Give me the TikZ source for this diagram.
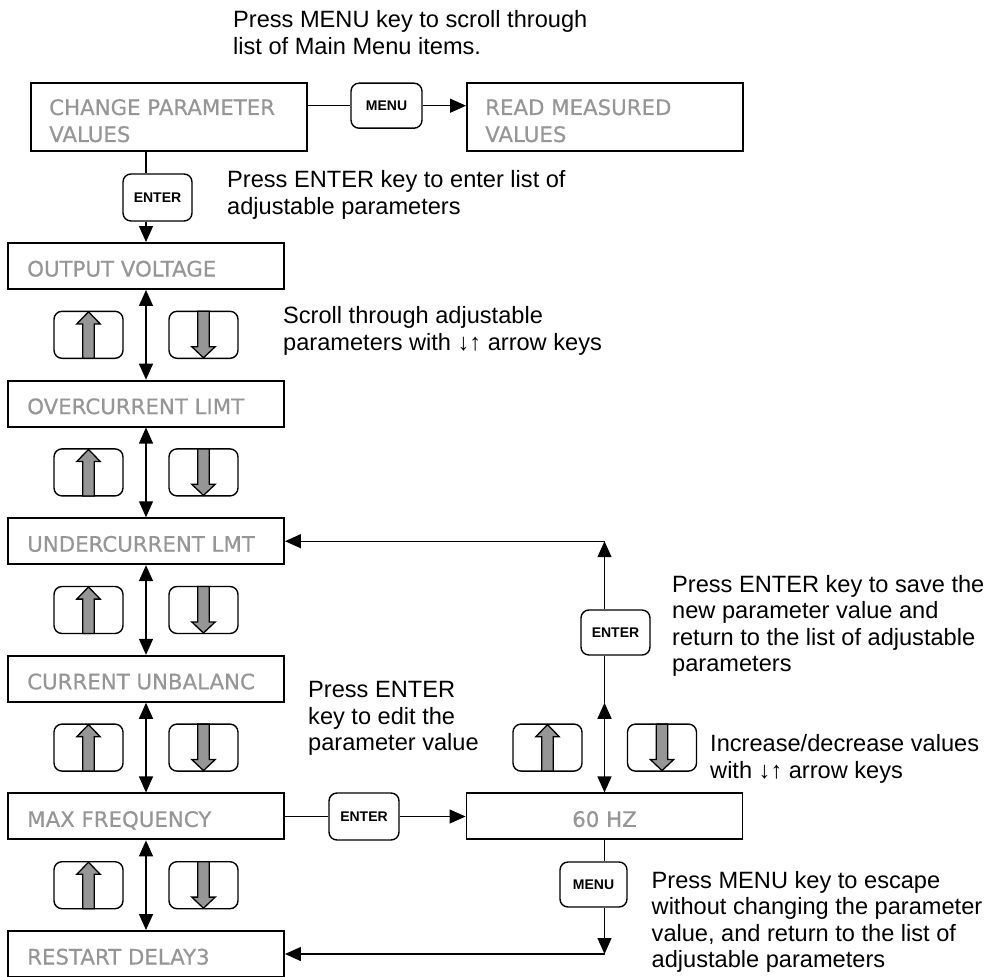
\documentclass[tikz,border=0pt]{standalone}
\usepackage{fontspec}
\setmainfont{Liberation Sans}
\newfontfamily\boxfont[FakeBold=0.5]{DejaVu Sans}
\usetikzlibrary{arrows.meta,calc}
\definecolor{boxtxt}{RGB}{150,150,150}
\definecolor{keyfill}{RGB}{150,150,150}
\newcommand\upglyph[1]{%
  \draw[glyph] ($(#1.north)+(0,1.2)$) -- ($(#1.north)+(11.7,13.3)$) -- ($(#1.north)+(5.8,13.3)$) -- ($(#1.south)+(5.8,-0.7)$) -- ($(#1.south)+(-5.8,-0.7)$) -- ($(#1.north)+(-5.8,13.3)$) -- ($(#1.north)+(-11.7,13.3)$) -- cycle;}
\newcommand\dnglyph[1]{%
  \draw[glyph] ($(#1.north)+(-5.8,0.7)$) -- ($(#1.south)+(-5.8,-12.3)$) -- ($(#1.south)+(-11.7,-12.3)$) -- ($(#1.south)+(0,-1.2)$) -- ($(#1.south)+(11.7,-12.3)$) -- ($(#1.south)+(5.8,-12.3)$) -- ($(#1.north)+(5.8,0.7)$) -- cycle;}
\begin{document}
\begin{tikzpicture}[x=1pt,y=-1pt,
  menubox/.style={draw, line width=1.9pt, minimum width=276pt, minimum height=46pt, inner sep=0pt},
  boxlabel/.style={font=\boxfont\fontsize{21.3}{27}\selectfont, text=boxtxt, inner sep=0pt, align=left},
  keybtn/.style={draw, line width=1.4pt, rounded corners=8pt, inner sep=0pt, font=\bfseries\fontsize{14}{16}\selectfont},
  keyblank/.style={draw, line width=1.4pt, rounded corners=8pt, inner sep=0pt, minimum width=69pt, minimum height=47pt},
  note/.style={font=\fontsize{23.6}{26.5}\selectfont, align=left, inner sep=0pt, anchor=base west},
  conn/.style={line width=1.3pt},
  arr/.style={conn, -{Triangle[length=16pt,width=14pt]}},
  darr/.style={conn, {Triangle[length=16pt,width=14pt]}-{Triangle[length=16pt,width=14pt]}},
  glyph/.style={fill=keyfill, draw=black, line width=1.3pt, line join=miter},
]
\useasboundingbox (0,0) rectangle (992,976);

% main menu boxes (label anchors: base of the last line)
\node[menubox, minimum height=68pt] (cp) at (169,117) {};
\node[boxlabel, anchor=base west] (cpT) at ($(cp.west)+(19,25)$) {CHANGE PARAMETER\\VALUES};
\node[menubox, minimum height=68pt] (rm) at (605,117) {};
\node[boxlabel, anchor=base west] (rmT) at ($(rm.west)+(19,25)$) {READ MEASURED\\VALUES};

% parameter boxes
\node[menubox] (ov) at (146,266) {};
\node[menubox] (oc) at (146,403.6) {};
\node[menubox] (uc) at (146,541.2) {};
\node[menubox] (cu) at (146,678.8) {};
\node[menubox] (mf) at (146,816.4) {};
\node[menubox] (rd) at (146,954) {};
\node[boxlabel, anchor=base west] (ovT) at ($(ov.west)+(20,10.5)$) {OUTPUT VOLTAGE};
\node[boxlabel, anchor=base west] (ocT) at ($(oc.west)+(20,10.5)$) {OVERCURRENT LIMT};
\node[boxlabel, anchor=base west] (ucT) at ($(uc.west)+(20,10.5)$) {UNDERCURRENT LMT};
\node[boxlabel, anchor=base west] (cuT) at ($(cu.west)+(20,10.5)$) {CURRENT UNBALANC};
\node[boxlabel, anchor=base west] (mfT) at ($(mf.west)+(20,10.5)$) {MAX FREQUENCY};
\node[boxlabel, anchor=base west] (rdT) at ($(rd.west)+(20,10.5)$) {RESTART DELAY3};

\node[menubox] (hz) at (604.5,816.4) {};
\node[boxlabel, anchor=base] (hzT) at ($(hz.center)+(0,10.5)$) {60 HZ};

% keys
\node[keybtn, minimum width=71pt, minimum height=45pt] (kMenuTop) at (386.5,105.7) {MENU};
\node[keybtn, minimum width=69pt, minimum height=47pt] (kEnterTop) at (157.5,197.5) {ENTER};
\node[keybtn, minimum width=70pt, minimum height=47pt] (kEnterMid) at (364,816.5) {ENTER};
\node[keybtn, minimum width=69pt, minimum height=45pt] (kEnterR) at (615.5,632.5) {ENTER};
\node[keybtn, minimum width=67pt, minimum height=45pt] (kMenuR) at (593.5,884.5) {MENU};

\foreach \i/\y in {1/334.8, 2/472.4, 3/610, 4/747.6, 5/885.2} {
  \node[keyblank] (up\i) at (88.5,\y) {};
  \node[keyblank] (dn\i) at (203.5,\y) {};
  \upglyph{up\i}
  \dnglyph{dn\i}
}
\node[keyblank] (up6) at (547.5,747.6) {};
\node[keyblank] (dn6) at (662,747.6) {};
\upglyph{up6}
\dnglyph{dn6}

% connectors
\draw[conn] (kMenuTop.west -| cp.east) -- (kMenuTop.west);
\draw[arr] (kMenuTop.east) -- (kMenuTop.east -| rm.west);
\draw[conn] (cp.south -| ov.north) -- (kEnterTop.north -| ov.north);
\draw[arr] (kEnterTop.south -| ov.north) -- (ov.north);
\draw[darr] (ov.south) -- (oc.north);
\draw[darr] (oc.south) -- (uc.north);
\draw[darr] (uc.south) -- (cu.north);
\draw[darr] (cu.south) -- (mf.north);
\draw[darr] (mf.south) -- (rd.north);
\draw[conn] (kEnterMid.west -| mf.east) -- (kEnterMid.west);
\draw[arr] (kEnterMid.east) -- (kEnterMid.east -| hz.west);

\coordinate (rA) at (hz.north |- uc.east);
\coordinate (rB) at (hz.north |- cu.south);
\coordinate (rC) at (hz.south |- rd.east);
\draw[conn] (hz.north |- kEnterR.south) -- (rB);
\draw[darr] (rB) -- (hz.north);
\draw[arr] (hz.north |- kEnterR.north) -- (rA);
\draw[arr] (rA) -- (uc.east);
\draw[conn] (hz.south) -- (hz.south |- kMenuR.north);
\draw[arr] (hz.south |- kMenuR.south) -- (rC);
\draw[arr] (rC) -- (rd.east);

% notes (anchor = baseline of the last line)
\node[note] (n1) at (233,54.5) {Press MENU key to scroll through\\list of Main Menu items.};
\node[note] (n2) at (227,214.5) {Press ENTER key to enter list of\\adjustable parameters};
\node[note] (n3) at (283,350) {Scroll through adjustable\\parameters with ↓↑ arrow keys};
\node[note] (n4) at (672,671.5) {Press ENTER key to save the\\new parameter value and\\return to the list of adjustable\\parameters};
\node[note] (n5) at (308,750.5) {Press ENTER\\key to edit the\\parameter value};
\node[note] (n6) at (710,778) {Increase/decrease values\\with ↓↑ arrow keys};
\node[note] (n7) at (651.5,967.5) {Press MENU key to escape\\without changing the parameter\\value, and return to the list of\\adjustable parameters};
\end{tikzpicture}
\end{document}
